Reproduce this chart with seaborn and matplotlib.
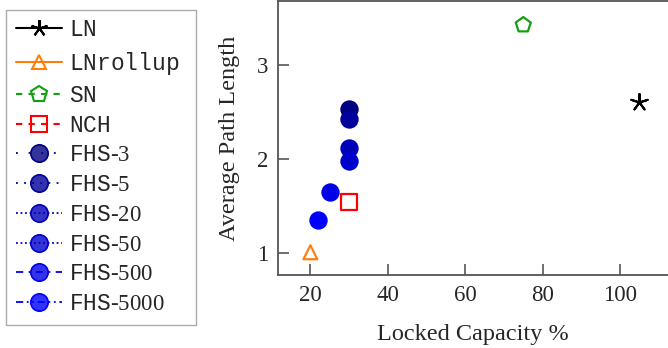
import numpy as np
import pandas as pd
import seaborn as sns
import matplotlib
matplotlib.use("Agg")
import matplotlib.pyplot as plt
from matplotlib.lines import Line2D

# Series
series_names = ["LN", "LNrollup", "SN", "NCH",
                "FHS-3", "FHS-5", "FHS-20", "FHS-50", "FHS-500", "FHS-5000"]
locked_capacity = [105, 20, 75, 30, 30, 30, 30, 30, 25, 22]
avg_path_length = [2.60, 1.01, 3.42, 1.54, 2.53, 2.42, 2.12, 1.98, 1.65, 1.35]

colors = ["black", "#ff7f0e", "#10a010", "#ff0000",
          "#000080", "#00009a", "#0000b8", "#0000cc", "#0000e6", "#0000ff"]
markers = [(5, 2, 0), "^", "p", "s", "o", "o", "o", "o", "o", "o"]
hollow = [False, True, True, True, False, False, False, False, False, False]
linestyles = ["-", "-", (0, (3, 3)), (0, (3, 3)),
              (0, (1, 6)), (0, (1, 3.5)), (0, (1, 1.5)), (0, (1, 1.5)),
              (0, (4, 3, 1, 3)), (0, (4, 2, 1, 2, 1, 2))]

df = pd.DataFrame({"series": series_names,
                   "capacity": locked_capacity,
                   "path": avg_path_length})

sns.set_style("ticks")
plt.rcParams["font.family"] = ["Liberation Serif", "DejaVu Serif"]
plt.rcParams["mathtext.fontset"] = "custom"
plt.rcParams["mathtext.tt"] = "Liberation Mono"
plt.rcParams["mathtext.rm"] = "Liberation Serif"

fig = plt.figure(figsize=(6.68, 3.48), dpi=100)
ax = fig.add_axes([0.416, 0.21, 0.584, 0.786])

for i, name in enumerate(series_names):
    sub = df[df["series"] == name]
    if hollow[i]:
        sns.scatterplot(data=sub, x="capacity", y="path", ax=ax, marker=markers[i],
                        s=130 if markers[i] != "^" else 100,
                        facecolor="none", edgecolor=colors[i], linewidth=1.6,
                        legend=False, zorder=3)
    elif markers[i] == "o":
        sns.scatterplot(data=sub, x="capacity", y="path", ax=ax, marker="o",
                        s=175, color=colors[i], edgecolor=colors[i], linewidth=0,
                        legend=False, zorder=3)
    else:
        sns.scatterplot(data=sub, x="capacity", y="path", ax=ax, marker=markers[i],
                        s=150, color=colors[i], edgecolor=colors[i], linewidth=1.5,
                        legend=False, zorder=3)

ax.set_xlim(11.6, 112.4)
ax.set_ylim(0.77, 3.67)
ax.set_xticks([20, 40, 60, 80, 100])
ax.set_yticks([1, 2, 3])
ax.set_xlabel("Locked Capacity %", fontsize=17.5, labelpad=13)
ax.set_ylabel("Average Path Length", fontsize=17.5, labelpad=12)
ax.tick_params(axis="both", direction="in", length=8, width=1.2, color="#555555",
               labelsize=16.5, pad=7)
ax.spines["right"].set_visible(False)
for side in ["left", "bottom", "top"]:
    ax.spines[side].set_color("#555555")
    ax.spines[side].set_linewidth(1.3)

# legend handles mimic the plot styles
handles = []
labels = []
for i, name in enumerate(series_names):
    if name.startswith("FHS"):
        rgba = matplotlib.colors.to_rgba(colors[i], 0.8)
        h = Line2D([], [], color=colors[i], linestyle=linestyles[i], linewidth=1.3,
                   marker="o", markersize=12.5, markerfacecolor=rgba,
                   markeredgecolor=colors[i], markeredgewidth=1.2)
        labels.append(r"$\mathtt{FHS}$" + "-" + name.split("-")[1])
    else:
        h = Line2D([], [], color=colors[i], linestyle=linestyles[i], linewidth=1.5,
                   marker=markers[i], markersize=12 if name != "LNrollup" else 10,
                   markerfacecolor="none" if hollow[i] else colors[i],
                   markeredgecolor=colors[i], markeredgewidth=1.5)
        labels.append(r"$\mathtt{" + name + "}$")
    handles.append(h)

leg = fig.legend(handles, labels, loc="upper left",
                 bbox_to_anchor=(0.009, 0.075, 0.284, 0.896), mode="expand",
                 bbox_transform=fig.transFigure, borderaxespad=0, fontsize=16.5,
                 handlelength=2.0, handletextpad=0.3, labelspacing=0.38,
                 frameon=True, fancybox=False, framealpha=1, borderpad=0.45)
leg.get_frame().set_edgecolor("#aaaaaa")
leg.get_frame().set_linewidth(1.0)

fig.savefig("out.png", dpi=100)
